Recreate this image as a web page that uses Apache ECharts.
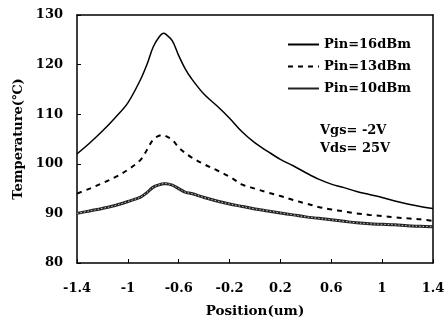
<!DOCTYPE html>
<html>
<head>
<meta charset="utf-8">
<script src="https://cdn.jsdelivr.net/npm/echarts@6/dist/echarts.min.js"></script>
<style>
  html, body { margin: 0; padding: 0; background: #fff; }
  #chart { width: 445px; height: 320px; }
</style>
</head>
<body>
<div id="chart"></div>
<script>
// Position along the channel (um)
const positions = [-1.4, -1.3, -1.2, -1.1, -1.0, -0.9, -0.85, -0.8, -0.75, -0.72, -0.7, -0.65, -0.6, -0.55, -0.5,
  -0.4, -0.3, -0.2, -0.1, 0, 0.1, 0.2, 0.3, 0.4, 0.5, 0.6, 0.7, 0.8, 0.9, 1.0, 1.1, 1.2, 1.3, 1.4];

// Channel temperature (°C) for each input power
const temp16dBm = [102.0, 104.2, 106.6, 109.3, 112.3, 117.0, 120.0, 123.6, 125.7, 126.3, 126.1, 124.8, 121.8, 119.2, 117.2,
  114.0, 111.7, 109.2, 106.4, 104.2, 102.5, 100.9, 99.6, 98.2, 96.9, 95.9, 95.2, 94.4, 93.8, 93.2, 92.5, 91.9, 91.4, 91.0];
const temp13dBm = [94.0, 95.0, 96.1, 97.3, 98.8, 100.8, 102.8, 104.9, 105.7, 105.8, 105.6, 104.8, 103.3, 102.2, 101.3,
  99.9, 98.7, 97.4, 95.8, 95.0, 94.2, 93.5, 92.7, 92.0, 91.3, 90.8, 90.4, 90.0, 89.7, 89.45, 89.2, 89.0, 88.8, 88.5];
const temp10dBm = [90.0, 90.5, 91.0, 91.6, 92.4, 93.3, 94.2, 95.3, 95.8, 96.0, 96.0, 95.7, 95.0, 94.3, 94.0,
  93.2, 92.5, 91.9, 91.4, 90.9, 90.5, 90.1, 89.7, 89.3, 89.0, 88.7, 88.4, 88.1, 87.9, 87.8, 87.7, 87.5, 87.4, 87.3];

const xTicks = [-1.4, -1, -0.6, -0.2, 0.2, 0.6, 1, 1.4];
const yTicks = [80, 90, 100, 110, 120, 130];

const seriesNames = ['Pin=16dBm', 'Pin=13dBm', 'Pin=10dBm'];
const biasNotes = ['Vgs= -2V', 'Vds= 25V'];

const FONT = 'DejaVu Serif';
const pairs = (ys) => positions.map((x, i) => [x, ys[i]]);

const chart = echarts.init(document.getElementById('chart'), null, { renderer: 'canvas' });

const axisText = { color: '#000', fontFamily: FONT, fontWeight: 'bold', fontSize: 13 };
const frameLine = { show: true, onZero: false, lineStyle: { color: '#000', width: 1.5 } };

chart.setOption({
  animation: false,
  color: ['#000', '#000', '#222'],
  grid: { left: 77, right: 12, top: 15, bottom: 57, containLabel: false, outerBoundsMode: 'none' },
  xAxis: [{
    type: 'value',
    min: -1.4, max: 1.4,
    name: 'Position(um)',
    nameLocation: 'middle',
    nameGap: 41,
    nameTextStyle: { color: '#000', fontFamily: FONT, fontWeight: 'bold', fontSize: 13.5 },
    axisLine: frameLine,
    axisTick: { show: true, inside: true, length: 4, customValues: xTicks, lineStyle: { color: '#000', width: 1 } },
    axisLabel: Object.assign({ margin: 19, customValues: xTicks, formatter: (v) => String(+v.toFixed(1)) }, axisText),
    splitLine: { show: false }
  }, {
    // top edge of the plot frame
    type: 'value', position: 'top', min: -1.4, max: 1.4,
    axisLine: frameLine, axisTick: { show: false }, axisLabel: { show: false }, splitLine: { show: false }
  }],
  yAxis: [{
    type: 'value',
    min: 80, max: 130, interval: 10,
    name: 'Temperature(℃)',
    nameLocation: 'middle',
    nameRotate: 90,
    nameGap: 48,
    nameTextStyle: { color: '#000', fontFamily: FONT, fontWeight: 'bold', fontSize: 13 },
    axisLine: frameLine,
    axisTick: { show: true, inside: true, length: 4, lineStyle: { color: '#000', width: 1 } },
    axisLabel: Object.assign({ margin: 14, customValues: yTicks }, axisText),
    splitLine: { show: false }
  }, {
    // right edge of the plot frame
    type: 'value', position: 'right', min: 80, max: 130,
    axisLine: frameLine, axisTick: { show: false }, axisLabel: { show: false }, splitLine: { show: false }
  }],
  legend: {
    data: seriesNames,
    orient: 'vertical',
    left: 282,
    top: 33,
    itemWidth: 31,
    itemHeight: 14,
    itemGap: 9,
    itemStyle: { opacity: 0 },
    textStyle: { color: '#000', fontFamily: FONT, fontWeight: 'bold', fontSize: 13 },
    selectedMode: false
  },
  graphic: biasNotes.map((t, i) => ({
    type: 'text',
    left: 320,
    top: 124 + i * 18,
    style: { text: t, fill: '#000', font: `bold 13px "${FONT}"` }
  })),
  series: [
    {
      name: seriesNames[0], type: 'line', data: pairs(temp16dBm),
      showSymbol: false, symbol: 'none', smooth: 0.35,
      itemStyle: { color: '#000' },
      lineStyle: { color: '#000', width: 1.5 }
    },
    {
      name: seriesNames[1], type: 'line', data: pairs(temp13dBm),
      showSymbol: false, symbol: 'none', smooth: 0.35,
      itemStyle: { color: '#000' },
      lineStyle: { color: '#000', width: 2, type: [5, 5] }
    },
    {
      name: seriesNames[2], type: 'line', data: pairs(temp10dBm),
      showSymbol: false, symbol: 'none', smooth: 0.35,
      itemStyle: { color: '#222' },
      lineStyle: { color: '#222', width: 3 }
    },
    {
      // light stitching inside the 10 dBm trace
      name: 'Pin=10dBm-stitch', type: 'line', data: pairs(temp10dBm),
      showSymbol: false, symbol: 'none', smooth: 0.35, silent: true,
      lineStyle: { color: '#fff', width: 1, type: [1.5, 2], opacity: 0.75 }
    }
  ]
});
</script>
</body>
</html>
